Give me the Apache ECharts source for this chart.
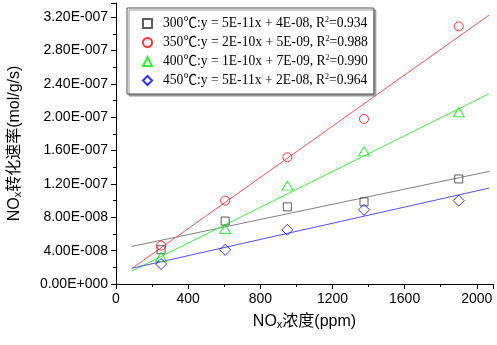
<!DOCTYPE html>
<html lang="zh">
  <head>
    <meta charset="UTF-8" />
    <title>NOx 转化速率</title>
    <style>
      html,
      body {
        margin: 0;
        background: #fff;
      }
      #main {
        width: 497px;
        height: 345px;
      }
    </style>
  </head>
  <body>
    <div id="main"></div>
    <script src="https://cdn.jsdelivr.net/npm/echarts@6/dist/echarts.min.js"></script>
    <script>
      // 浓度 (ppm)
      const conc = [250, 605, 950, 1375, 1900];
      // 各温度下的 NOx 转化速率 (mol/g/s)
      const rate300 = [4.1e-8, 7.55e-8, 9.25e-8, 9.85e-8, 12.6e-8];
      const rate350 = [4.6e-8, 10.0e-8, 15.2e-8, 19.8e-8, 30.9e-8];
      const rate400 = [3.25e-8, 6.6e-8, 11.8e-8, 15.9e-8, 20.6e-8];
      const rate450 = [2.4e-8, 4.1e-8, 6.5e-8, 8.9e-8, 10.0e-8];
      // 拟合直线两端
      const fitX = [87, 2068];
      const fit300 = [4.5e-8, 13.5e-8];
      const fit350 = [1.84e-8, 32.25e-8];
      const fit400 = [1.55e-8, 22.8e-8];
      const fit450 = [1.88e-8, 11.5e-8];
      // 图例文字
      const names = ["300℃", "350℃", "400℃", "450℃"];
      const eqs = [
        ["5E-11x + 4E-08", "0.934"],
        ["2E-10x + 5E-09", "0.988"],
        ["1E-10x + 7E-09", "0.990"],
        ["5E-11x + 2E-08", "0.964"],
      ];

      const sci = (v) => {
        if (v === 0) return "0.00E+000";
        const parts = v.toExponential(2).split("e");
        const n = parseInt(parts[1], 10);
        return parts[0] + "E" + (n < 0 ? "-" : "+") + String(Math.abs(n)).padStart(3, "0");
      };
      const pts = (ys) => conc.map((x, i) => [x, ys[i]]);
      const seg = (ys) => fitX.map((x, i) => [x, ys[i]]);

      const marks = [
        { data: rate300, symbol: "rect", size: 8, color: "#333333" },
        { data: rate350, symbol: "circle", size: 9, color: "#ff0000" },
        { data: rate400, symbol: "triangle", size: [11, 9], color: "#00ee00" },
        { data: rate450, symbol: "diamond", size: [11, 11], color: "#0000ff" },
      ];
      const fits = [
        { data: fit300, color: "#808080" },
        { data: fit350, color: "#ff5050" },
        { data: fit400, color: "#44ee44" },
        { data: fit450, color: "#5050ff" },
      ];

      const series = [];
      fits.forEach((f) => {
        series.push({
          type: "line",
          data: seg(f.data),
          showSymbol: false,
          silent: true,
          lineStyle: { color: f.color, width: 1 },
          z: 1,
        });
      });
      marks.forEach((m, i) => {
        series.push({
          name: names[i],
          type: "scatter",
          data: pts(m.data),
          symbol: m.symbol,
          symbolSize: m.size,
          itemStyle: {
            color: "rgba(0,0,0,0)",
            borderColor: m.color,
            borderWidth: 1,
          },
          z: 3,
        });
      });

      const axisFont = { fontFamily: "Liberation Sans, Arial", fontSize: 14, color: "#000" };
      const nameRich = {
        sub: { fontSize: 11, verticalAlign: "bottom", fontFamily: "Liberation Sans", color: "#000", padding: [6, 0, 0, 0] },
      };

      const option = {
        animation: false,
        backgroundColor: "#fff",
        grid: { left: 116, right: 4, top: 3, bottom: 61, containLabel: false, outerBoundsMode: "none" },
        legend: {
          orient: "vertical",
          left: 127,
          top: 8,
          padding: [8, 6, 6, 15],
          itemWidth: 9,
          itemHeight: 9,
          itemGap: 4,
          backgroundColor: "#fff",
          borderColor: "#555",
          borderWidth: 1,
          shadowColor: "#999",
          shadowOffsetX: 2,
          shadowOffsetY: 2,
          data: names,
          formatter: (name) => {
            const i = names.indexOf(name);
            return name + ":y = " + eqs[i][0] + ", R{sup|2}=" + eqs[i][1];
          },
          textStyle: {
            fontFamily: "Liberation Serif, Times New Roman, Noto Sans CJK SC",
            fontSize: 13.6,
            color: "#000",
            lineHeight: 15,
            padding: [0, 0, 0, 6],
            rich: {
              sup: { fontSize: 8, verticalAlign: "top", fontFamily: "Liberation Serif", padding: [0, 0, 6, 0] },
            },
          },
        },
        xAxis: {
          type: "value",
          min: 0,
          max: 2090,
          interval: 400,
          name: "NO{sub|x}浓度(ppm)",
          nameLocation: "middle",
          nameGap: 29,
          nameTextStyle: {
            fontFamily: "Liberation Sans, Noto Sans CJK SC",
            fontSize: 16,
            color: "#000",
            rich: nameRich,
          },
          axisLine: { onZero: false, lineStyle: { color: "#000", width: 1 } },
          axisTick: { length: 5, lineStyle: { color: "#000" } },
          minorTick: { show: true, splitNumber: 2, length: 3, lineStyle: { color: "#000" } },
          axisLabel: { ...axisFont, margin: 8, showMaxLabel: false, formatter: (v) => String(v) },
          splitLine: { show: false },
        },
        yAxis: {
          type: "value",
          min: 0,
          max: 3.37e-7,
          interval: 4e-8,
          name: "NO{sub|x}转化速率(mol/g/s)",
          nameLocation: "middle",
          nameGap: 93,
          nameTextStyle: {
            fontFamily: "Liberation Sans, Noto Sans CJK SC",
            fontSize: 16,
            color: "#000",
            rich: nameRich,
          },
          axisLine: { show: true, lineStyle: { color: "#000", width: 1 } },
          axisTick: { length: 5, lineStyle: { color: "#000" } },
          minorTick: { show: true, splitNumber: 2, length: 3, lineStyle: { color: "#000" } },
          axisLabel: { ...axisFont, margin: 8, showMaxLabel: false, formatter: sci },
          splitLine: { show: false },
        },
        series: series,
      };

      const myChart = echarts.init(document.getElementById("main"));
      myChart.setOption(option);
    </script>
  </body>
</html>
